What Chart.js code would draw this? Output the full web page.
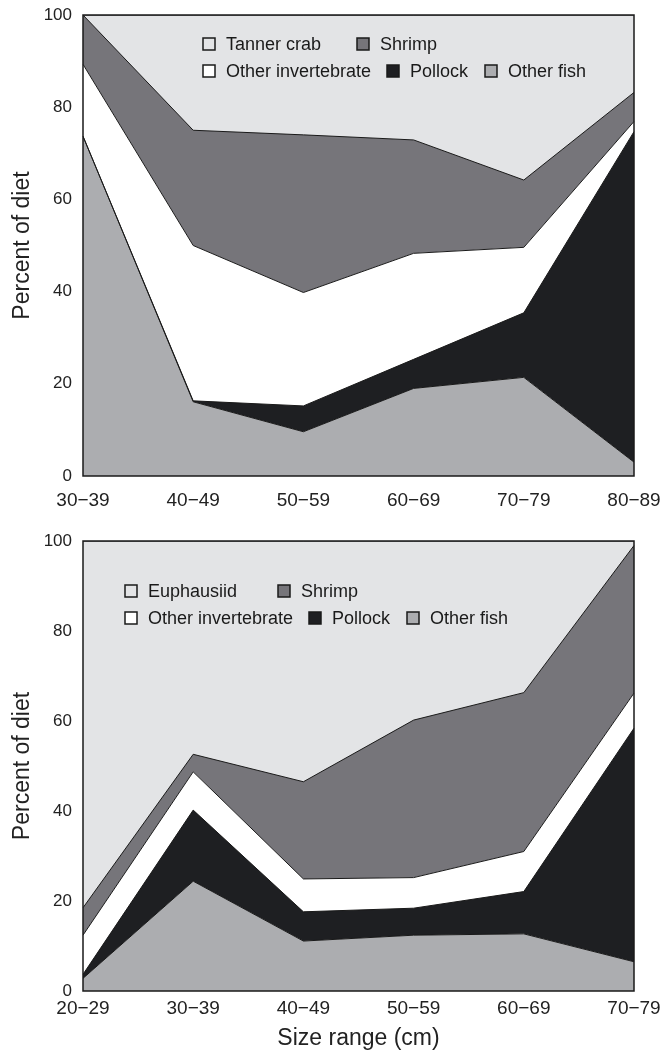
<!DOCTYPE html>
<html>
<head>
<meta charset="utf-8">
<script src="https://cdn.jsdelivr.net/npm/chart.js@4.4.1/dist/chart.umd.min.js"></script>
<style>
  html, body { margin: 0; padding: 0; background: #fff; }
  canvas { display: block; }
</style>
</head>
<body>
<canvas id="dietTop" width="660" height="520"></canvas>
<canvas id="dietBottom" width="660" height="532"></canvas>
<script>
// upper panel, percent of diet by size class (bottom layer first)
const topSizes = ['30−39', '40−49', '50−59', '60−69', '70−79', '80−89'];
const topOtherFish = [73.7, 16.1, 9.6, 19.0, 21.4, 3.0];
const topPollock = [0, 0.2, 5.6, 6.3, 14.0, 71.7];
const topOtherInvert = [15.6, 33.7, 24.6, 23.0, 14.2, 2.2];
const topShrimp = [10.7, 25.0, 34.2, 24.6, 14.6, 6.3];
const topTannerCrab = [0, 25.0, 26.0, 27.1, 35.8, 16.8];

// lower panel
const bottomSizes = ['20−29', '30−39', '40−49', '50−59', '60−69', '70−79'];
const bottomOtherFish = [2.8, 24.4, 11.1, 12.4, 12.7, 6.5];
const bottomPollock = [0.9, 15.8, 6.5, 6.0, 9.4, 51.9];
const bottomOtherInvert = [8.7, 8.5, 7.3, 6.8, 8.9, 7.8];
const bottomShrimp = [6.1, 3.9, 21.6, 35.0, 35.3, 32.8];
const bottomEuphausiid = [81.5, 47.4, 53.5, 39.8, 33.7, 1.0];

const yTicks = [0, 20, 40, 60, 80, 100];

const colors = {
    otherFish: '#acadb0',
    pollock: '#1e1f22',
    otherInvert: '#ffffff',
    shrimp: '#76757a',
    top: '#e3e4e6'
};

Chart.defaults.font.family = '"Liberation Sans", Arial, Helvetica, sans-serif';
Chart.defaults.color = '#222';

// black frame round the plot area
const framePlugin = {
    id: 'frame',
    afterDatasetsDraw(chart) {
        const a = chart.chartArea;
        const ctx = chart.ctx;
        ctx.save();
        ctx.strokeStyle = '#1a1a1a';
        ctx.lineWidth = 1.5;
        ctx.strokeRect(a.left, a.top, a.right - a.left, a.bottom - a.top);
        ctx.restore();
    }
};

// two-row legend with boxed swatches
const boxLegendPlugin = {
    id: 'boxLegend',
    afterDraw(chart, args, opts) {
        const ctx = chart.ctx;
        ctx.save();
        ctx.font = '18px "Liberation Sans", Arial, sans-serif';
        ctx.textBaseline = 'middle';
        ctx.textAlign = 'left';
        opts.items.forEach(function (item) {
            const ds = chart.data.datasets[item.index];
            ctx.fillStyle = ds.backgroundColor;
            ctx.fillRect(item.x, item.y - 6, 12, 12);
            ctx.strokeStyle = '#1a1a1a';
            ctx.lineWidth = 1.5;
            ctx.strokeRect(item.x, item.y - 6, 12, 12);
            ctx.fillStyle = '#1a1a1a';
            ctx.fillText(ds.label, item.x + 23, item.y + 1);
        });
        ctx.restore();
    }
};

function makeChart(id, sizes, layers, cfg) {
    const datasets = layers.map(function (l, i) {
        return {
            label: l.label,
            data: l.data,
            backgroundColor: l.color,
            borderColor: '#1a1a1a',
            borderWidth: 1,
            pointRadius: 0,
            tension: 0,
            fill: i === 0 ? 'origin' : '-1'
        };
    });

    return new Chart(document.getElementById(id), {
        type: 'line',
        data: { labels: sizes, datasets: datasets },
        plugins: [framePlugin, boxLegendPlugin],
        options: {
            responsive: false,
            animation: false,
            layout: { padding: { top: cfg.padTop, right: 26, left: 0, bottom: 0 } },
            plugins: {
                legend: { display: false },
                tooltip: { enabled: false },
                filler: { drawTime: 'beforeDatasetsDraw' },
                boxLegend: { items: cfg.legend }
            },
            scales: {
                x: {
                    offset: false,
                    grid: { display: false, drawTicks: false },
                    border: { display: false },
                    ticks: { font: { size: 19 }, padding: cfg.xPad, maxRotation: 0, autoSkip: false },
                    title: {
                        display: !!cfg.xTitle,
                        text: cfg.xTitle || '',
                        font: { size: 23 },
                        padding: { top: 0, bottom: 0 }
                    },
                    afterFit(s) {
                        s.height = cfg.xHeight;
                        s.paddingLeft = 0;
                        s.paddingRight = 0;
                    }
                },
                y: {
                    stacked: true,
                    min: 0,
                    max: 100,
                    afterBuildTicks(s) {
                        s.ticks = yTicks.map(function (v) { return { value: v }; });
                    },
                    grid: { display: false, drawTicks: false },
                    border: { display: false },
                    ticks: { font: { size: 17 }, padding: 11 },
                    title: {
                        display: true,
                        text: 'Percent of diet',
                        font: { size: 23 },
                        padding: { top: 9, bottom: 0 }
                    },
                    afterFit(s) {
                        s.width = 83;
                        s.paddingTop = 0;
                        s.paddingBottom = 0;
                    }
                }
            }
        }
    });
}

makeChart('dietTop', topSizes, [
    { label: 'Other fish', data: topOtherFish, color: colors.otherFish },
    { label: 'Pollock', data: topPollock, color: colors.pollock },
    { label: 'Other invertebrate', data: topOtherInvert, color: colors.otherInvert },
    { label: 'Shrimp', data: topShrimp, color: colors.shrimp },
    { label: 'Tanner crab', data: topTannerCrab, color: colors.top }
], {
    padTop: 15,
    xHeight: 44,
    xPad: 13,
    legend: [
        { index: 4, x: 203, y: 44 },
        { index: 3, x: 357, y: 44 },
        { index: 2, x: 203, y: 71 },
        { index: 1, x: 387, y: 71 },
        { index: 0, x: 485, y: 71 }
    ]
});

makeChart('dietBottom', bottomSizes, [
    { label: 'Other fish', data: bottomOtherFish, color: colors.otherFish },
    { label: 'Pollock', data: bottomPollock, color: colors.pollock },
    { label: 'Other invertebrate', data: bottomOtherInvert, color: colors.otherInvert },
    { label: 'Shrimp', data: bottomShrimp, color: colors.shrimp },
    { label: 'Euphausiid', data: bottomEuphausiid, color: colors.top }
], {
    padTop: 21,
    xHeight: 61,
    xPad: 6,
    xTitle: 'Size range (cm)',
    legend: [
        { index: 4, x: 125, y: 71 },
        { index: 3, x: 278, y: 71 },
        { index: 2, x: 125, y: 98 },
        { index: 1, x: 309, y: 98 },
        { index: 0, x: 407, y: 98 }
    ]
});
</script>
</body>
</html>
